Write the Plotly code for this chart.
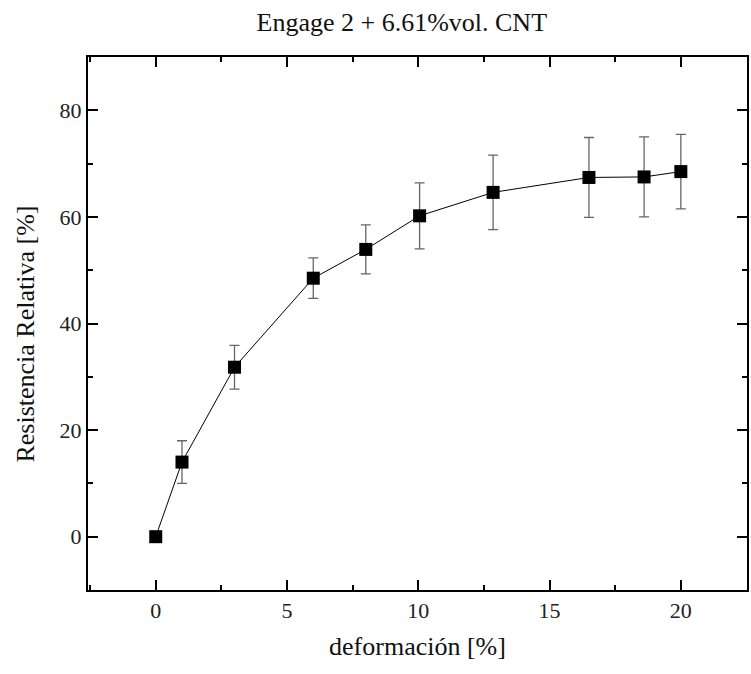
import plotly.graph_objects as go

# Strain (%) vs relative resistance (%) with standard deviation
deformacion = [0, 1, 3, 6, 8, 10.05, 12.85, 16.5, 18.6, 20]
resistencia = [0, 14.0, 31.8, 48.5, 53.9, 60.2, 64.6, 67.4, 67.5, 68.5]
desviacion = [0, 4.0, 4.1, 3.8, 4.6, 6.2, 7.0, 7.5, 7.5, 7.0]

titulo = "Engage 2 + 6.61%vol. CNT"
titulo_x = "deformación [%]"
titulo_y = "Resistencia Relativa [%]"

FONT = "Liberation Serif, Times New Roman, serif"

fig = go.Figure()
fig.add_trace(go.Scatter(
    x=deformacion,
    y=resistencia,
    mode="lines+markers",
    line=dict(color="black", width=1),
    marker=dict(symbol="square", size=13, color="black"),
    error_y=dict(type="data", array=desviacion, visible=True,
                 color="#666666", thickness=1.3, width=5),
    showlegend=False,
))

axis_common = dict(
    showline=True, linecolor="black", linewidth=2, mirror="allticks",
    ticks="inside", ticklen=10, tickwidth=2, tickcolor="black",
    showgrid=False, zeroline=False,
    tickfont=dict(family=FONT, size=22, color="#222222"),
)

fig.update_xaxes(
    range=[-2.58, 22.52], tick0=0, dtick=5,
    minor=dict(ticks="inside", ticklen=5, tickwidth=2, tickcolor="black", dtick=2.5, showgrid=False),
    title=dict(text=titulo_x, font=dict(family=FONT, size=26, color="#111111"), standoff=14),
    **axis_common,
)
fig.update_yaxes(
    range=[-10, 90], tick0=0, dtick=20,
    minor=dict(ticks="inside", ticklen=5, tickwidth=2, tickcolor="black", dtick=10, showgrid=False),
    **axis_common,
)

fig.add_annotation(
    text=titulo_y, textangle=-90,
    xref="paper", yref="paper", x=-0.095, y=0.48,
    xanchor="center", yanchor="middle", showarrow=False,
    font=dict(family=FONT, size=26, color="#111111"),
)

fig.update_layout(
    width=751, height=674,
    margin=dict(l=88, r=2, t=57, b=84),
    paper_bgcolor="white", plot_bgcolor="white",
    title=dict(text=titulo, xref="container", x=0.535, xanchor="center",
               yref="container", y=1 - 22 / 674, yanchor="middle",
               font=dict(family=FONT, size=26, color="#111111")),
)

fig.write_html("out.html")
